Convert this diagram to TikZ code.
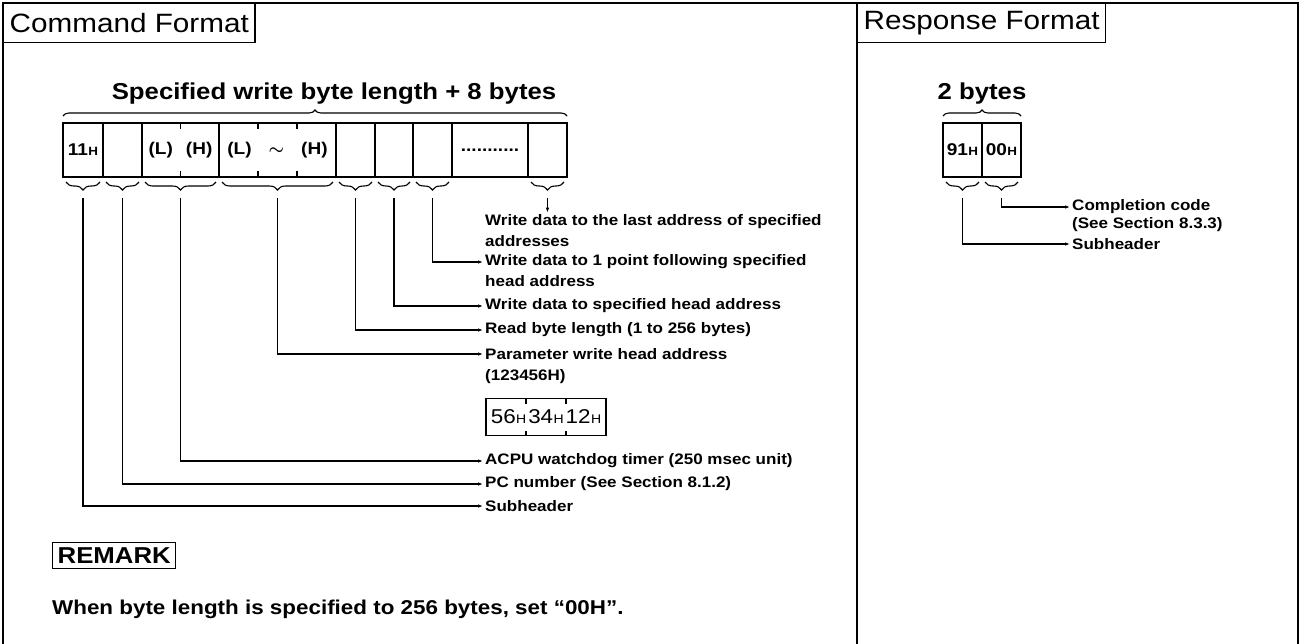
\documentclass[tikz,border=0pt]{standalone}
\usepackage{amsmath}
\usepackage{fontspec}
\setmainfont{Liberation Sans}[FakeStretch=1.12]
\usetikzlibrary{arrows.meta, calc, positioning, decorations.pathreplacing}
\newcommand{\hx}[1]{#1\kern.4pt{\fontsize{12}{13}\selectfont H}}
\newcommand{\hb}[1]{#1\kern.4pt{\fontsize{12.5}{13}\selectfont H}}
\tikzset{
    x=1pt, y=-1pt,
    frame/.style={line width=2.4pt, line cap=rect},
    titlebox/.style={draw, line width=1.4pt, anchor=north west, inner xsep=6pt,
                     minimum height=39, font=\fontsize{26.5}{29}\selectfont},
    cell/.style={draw, line width=1.4pt, anchor=west, minimum height=54,
                 inner sep=0pt, outer sep=0pt, font=\bfseries\fontsize{17}{20}\selectfont},
    tick/.style={line width=1.2pt},
    brcup/.style={decorate, decoration={brace, amplitude=6pt}, line width=1.1pt},
    brcdn/.style={decorate, decoration={brace, amplitude=8pt, mirror}, line width=1.1pt},
    lead/.style={-{Latex[length=5pt, width=3.5pt]}, line width=1.1pt},
    lbl/.style={anchor=west, inner sep=2pt, font=\bfseries\fontsize{15.2}{18}\selectfont},
    head/.style={inner sep=2pt, font=\bfseries\fontsize{23}{26}\selectfont},
}
% brace under cells #1..#2, tip named #3
\newcommand{\ubrace}[3]{%
    \draw[brcdn] ([xshift=3pt, yshift=-5pt]#1.south west)
        -- ([xshift=-3pt, yshift=-5pt]#2.south east);
    \coordinate (#3) at ($(#1.south west)!.5!(#2.south east)+(0,21)$);
}

\begin{document}
\begin{tikzpicture}
    \useasboundingbox (0,0) rectangle (1302,643);
    \draw[frame] (3,643) |- (1298,3) -- (1298,643);
    \draw[frame] (857,3) -- (857,643);
    \node[titlebox] (cmdT) at (3,3) {Command Format};
    \node[titlebox] (rspT) at (857,3) {Response Format};

    % command frame
    \node[cell, minimum width=40] (c1) at (63,150) {\hx{11}};
    \node[cell, minimum width=39, right=0pt of c1] (c2) {};
    \node[cell, minimum width=77, right=0pt of c2] (c3) {(L)\hspace{13pt}(H)};
    \node[cell, minimum width=117, right=0pt of c3] (c4)
        {(L)\hspace{17pt}$\boldsymbol{\sim}$\hspace{17pt}(H)};
    \node[cell, minimum width=39, right=0pt of c4] (c5) {};
    \node[cell, minimum width=38, right=0pt of c5] (c6) {};
    \node[cell, minimum width=39, right=0pt of c6] (c7) {};
    \node[cell, minimum width=76, right=0pt of c7] (c8) {...........};
    \node[cell, minimum width=39, right=0pt of c8] (c9) {};
    \foreach \n/\f in {c3/.5, c4/.3333, c4/.6667}{
        \draw[tick] ($(\n.north west)!\f!(\n.north east)$) -- ++(0,6);
        \draw[tick] ($(\n.south west)!\f!(\n.south east)$) -- ++(0,-6);
    }
    \draw[brcup] ([yshift=7pt]c1.north west) -- ([yshift=7pt]c9.north east);
    \node[head] (lenT) at (334,94) {Specified write byte length + 8 bytes};

    \ubrace{c1}{c1}{bSub}
    \ubrace{c2}{c2}{bPC}
    \ubrace{c3}{c3}{bWdt}
    \ubrace{c4}{c4}{bAdr}
    \ubrace{c5}{c5}{bLen}
    \ubrace{c6}{c6}{bDat1}
    \ubrace{c7}{c7}{bDat2}
    \ubrace{c9}{c9}{bDatN}

    \node[lbl] (tDatN) at (483,222) {Write data to the last address of specified};
    \node[lbl] (tDatNb) at ($(tDatN.west)+(0,19)$) {addresses};
    \node[lbl] (tDat2) at (483,262) {Write data to 1 point following specified};
    \node[lbl] (tDat2b) at ($(tDat2.west)+(0,19)$) {head address};
    \node[lbl] (tDat1) at (483,306) {Write data to specified head address};
    \node[lbl] (tLen) at (483,330) {Read byte length (1 to 256 bytes)};
    \node[lbl] (tAdr) at (483,354) {Parameter write head address};
    \node[lbl] (tAdrb) at ($(tAdr.west)+(0,23)$) {(123456H)};
    \node[cell, minimum width=120, minimum height=37, font=\fontsize{20}{22}\selectfont]
        (pad) at (486,417) {\hb{56}\hspace{2pt}\hb{34}\hspace{2pt}\hb{12}};
    \foreach \f in {.3333, .6667}{
        \draw[tick] ($(pad.north west)!\f!(pad.north east)$) -- ++(0,5);
        \draw[tick] ($(pad.south west)!\f!(pad.south east)$) -- ++(0,-5);
    }
    \node[lbl] (tWdt) at (483,461) {ACPU watchdog timer (250 msec unit)};
    \node[lbl] (tPC) at (483,484) {PC number (See Section 8.1.2)};
    \node[lbl] (tSub) at (483,506) {Subheader};

    \draw[lead] (bDatN) -- (bDatN |- tDatN.north);
    \draw[lead] (bDat2) |- (tDat2);
    \draw[lead] (bDat1) |- (tDat1);
    \draw[lead] (bLen) |- (tLen);
    \draw[lead] (bAdr) |- (tAdr);
    \draw[lead] (bWdt) |- (tWdt);
    \draw[lead] (bPC) |- (tPC);
    \draw[lead] (bSub) |- (tSub);

    \node[draw, line width=1.4pt, anchor=north west, inner xsep=5pt, inner ysep=5pt,
          font=\bfseries\fontsize{23}{25}\selectfont] (rmk) at (52,542) {REMARK};
    \node[anchor=west, inner sep=0pt, font=\bfseries\fontsize{20}{23}\selectfont]
        (rmkT) at (52,609) {When byte length is specified to 256 bytes, set “00H”.};

    % response frame
    \node[cell, minimum width=39] (r1) at (943,150) {\hx{91}};
    \node[cell, minimum width=39, right=0pt of r1] (r2) {\hx{00}};
    \draw[brcup] ([yshift=7pt]r1.north west) -- ([yshift=7pt]r2.north east);
    \node[head] (byT) at (982,94) {2 bytes};
    \ubrace{r1}{r1}{bRsub}
    \ubrace{r2}{r2}{bRcode}
    \node[lbl] (tRcode) at (1070,207) {Completion code};
    \node[lbl] (tRcodeb) at ($(tRcode.west)+(0,18)$) {(See Section 8.3.3)};
    \node[lbl] (tRsub) at (1070,244) {Subheader};
    \draw[lead] (bRcode) |- (tRcode);
    \draw[lead] (bRsub) |- (tRsub);
\end{tikzpicture}
\end{document}
